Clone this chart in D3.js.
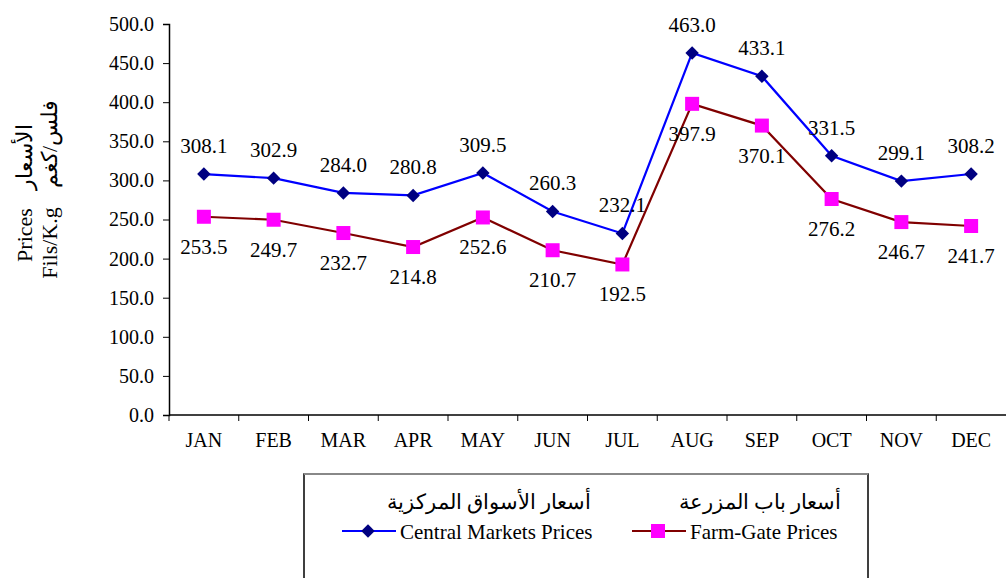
<!DOCTYPE html>
<html>
<head>
<meta charset="utf-8">
<script src="https://cdn.jsdelivr.net/npm/d3@7"></script>
<style>
    body { margin: 0; background: #fff; }
    svg text { font-family: "Liberation Serif", "Times New Roman", serif; fill: #000; }
</style>
</head>
<body>
<div id="chart"></div>
<script>
// Chart data
const months = ["JAN", "FEB", "MAR", "APR", "MAY", "JUN", "JUL", "AUG", "SEP", "OCT", "NOV", "DEC"];
const centralPrices = [308.1, 302.9, 284.0, 280.8, 309.5, 260.3, 232.1, 463.0, 433.1, 331.5, 299.1, 308.2];
const farmPrices = [253.5, 249.7, 232.7, 214.8, 252.6, 210.7, 192.5, 397.9, 370.1, 276.2, 246.7, 241.7];
const yTicks = [0, 50, 100, 150, 200, 250, 300, 350, 400, 450, 500];

const width = 1006, height = 578;
const svg = d3.select("#chart").append("svg")
    .attr("width", width)
    .attr("height", height);

const x = d3.scaleBand().domain(months).range([169, 1006]);
const y = d3.scaleLinear().domain([0, 500]).range([415, 24]);
const cx = d => x(d) + x.bandwidth() / 2;

// Y axis
const yAxis = svg.append("g")
    .attr("transform", "translate(169,0)")
    .call(d3.axisLeft(y).tickValues(yTicks).tickFormat(d3.format(".1f")).tickSize(6).tickPadding(9));
yAxis.select(".domain").attr("stroke", "#000").attr("stroke-width", 1.5);
yAxis.selectAll("text").attr("font-size", 20).attr("font-family", "Liberation Serif");

// X axis with ticks at band edges
const xAxis = svg.append("g").attr("transform", "translate(0,415)");
xAxis.append("line")
    .attr("x1", 169).attr("x2", 1006)
    .attr("stroke", "#000").attr("stroke-width", 1.5);
xAxis.selectAll("line.tick")
    .data(months)
    .join("line")
    .attr("class", "tick")
    .attr("x1", d => x(d)).attr("x2", d => x(d))
    .attr("y1", 0).attr("y2", 6)
    .attr("stroke", "#000");
xAxis.selectAll("text")
    .data(months)
    .join("text")
    .attr("x", cx)
    .attr("y", 32)
    .attr("text-anchor", "middle")
    .attr("font-size", 20)
    .text(d => d);

// Y axis title (two rotated lines)
const ytitle = [
    { t: "Prices", cy: 235, bx: 32 },
    { t: "الأسعار", cy: 157, bx: 32 },
    { t: "Fils/K.g", cy: 243, bx: 57 },
    { t: "فلس/كغم", cy: 144, bx: 57 }
];
svg.selectAll("text.ytitle")
    .data(ytitle)
    .join("text")
    .attr("class", "ytitle")
    .attr("transform", d => `translate(${d.bx},${d.cy}) rotate(-90)`)
    .attr("text-anchor", "middle")
    .attr("font-size", 22)
    .text(d => d.t);

const line = d3.line().x((d, i) => cx(months[i])).y(d => y(d));
const diamond = d3.symbol(d3.symbolDiamond2, 115);

// Central markets series
svg.append("path")
    .datum(centralPrices)
    .attr("d", line)
    .attr("fill", "none")
    .attr("stroke", "#0000FF")
    .attr("stroke-width", 2.2);
svg.selectAll("path.diamond")
    .data(centralPrices)
    .join("path")
    .attr("class", "diamond")
    .attr("d", diamond)
    .attr("transform", (d, i) => `translate(${cx(months[i])},${y(d)})`)
    .attr("fill", "#000080");
svg.selectAll("text.clabel")
    .data(centralPrices)
    .join("text")
    .attr("class", "clabel")
    .attr("x", (d, i) => cx(months[i]))
    .attr("y", d => y(d) - 21)
    .attr("text-anchor", "middle")
    .attr("font-size", 21)
    .text(d => d.toFixed(1));

// Farm-gate series
svg.append("path")
    .datum(farmPrices)
    .attr("d", line)
    .attr("fill", "none")
    .attr("stroke", "#800000")
    .attr("stroke-width", 2.2);
svg.selectAll("rect.square")
    .data(farmPrices)
    .join("rect")
    .attr("class", "square")
    .attr("x", (d, i) => cx(months[i]) - 7)
    .attr("y", d => y(d) - 7)
    .attr("width", 14).attr("height", 14)
    .attr("fill", "#FF00FF");
svg.selectAll("text.flabel")
    .data(farmPrices)
    .join("text")
    .attr("class", "flabel")
    .attr("x", (d, i) => cx(months[i]))
    .attr("y", d => y(d) + 37)
    .attr("text-anchor", "middle")
    .attr("font-size", 21)
    .text(d => d.toFixed(1));

// Legend box
const legend = svg.append("g");
legend.append("rect")
    .attr("x", 304).attr("y", 474)
    .attr("width", 564).attr("height", 120)
    .attr("fill", "#fff").attr("stroke", "#000").attr("stroke-width", 1.5);
legend.append("line")
    .attr("x1", 304).attr("x2", 868).attr("y1", 474).attr("y2", 474)
    .attr("stroke", "#888").attr("stroke-width", 2);

const legendItems = [
    { en: "Central Markets Prices", ar: "أسعار الأسواق المركزية", x0: 342, color: "#0000FF", arEnd: 591 },
    { en: "Farm-Gate Prices", ar: "أسعار باب المزرعة", x0: 632, color: "#800000", arEnd: 841 }
];
legendItems.forEach((it, k) => {
    legend.append("line")
        .attr("x1", it.x0).attr("x2", it.x0 + 54)
        .attr("y1", 531).attr("y2", 531)
        .attr("stroke", it.color).attr("stroke-width", 2.2);
    if (k === 0) {
        legend.append("path")
            .attr("d", diamond)
            .attr("transform", `translate(${it.x0 + 26},531)`)
            .attr("fill", "#000080");
    } else {
        legend.append("rect")
            .attr("x", it.x0 + 19).attr("y", 524)
            .attr("width", 14).attr("height", 14)
            .attr("fill", "#FF00FF");
    }
    legend.append("text")
        .attr("x", it.x0 + 58).attr("y", 539)
        .attr("font-size", 21)
        .text(it.en);
    legend.append("text")
        .attr("x", it.arEnd).attr("y", 509)
        .attr("text-anchor", "end")
        .attr("font-size", 21)
        .text(it.ar);
});
</script>
</body>
</html>
